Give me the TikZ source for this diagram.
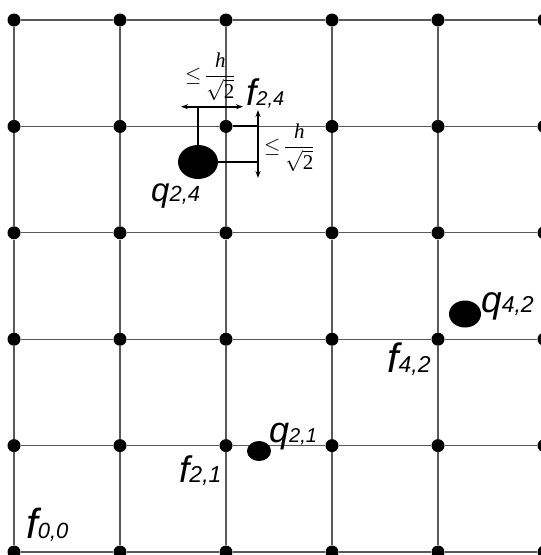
\documentclass[tikz,border=0pt]{standalone}
\usepackage{amsmath}
\usepackage{graphicx}
\usepackage{fontspec}
\setmainfont{Liberation Serif}
\newfontfamily\labfont{Liberation Sans}
\usetikzlibrary{shapes.geometric,arrows.meta}
\newcommand{\lbl}[4]{{\labfont\itshape\fontsize{#1}{#1}\selectfont #2\fontsize{#3}{#3}\selectfont #4}}
\newcommand{\dimlab}{\scalebox{2.1}{$\leq\!\dfrac{\text{\itshape h}}{\sqrt{\text{2}}}$}}
\begin{document}
\begin{tikzpicture}[x=1pt,y=-1pt,
  gdot/.style={circle,fill=black,inner sep=0pt,minimum size=13pt},
  gline/.style={draw=black!65,line width=1.1pt},
  charge/.style={ellipse,fill=black,inner sep=0pt},
  dimline/.style={draw=black,line width=2pt},
  dimarrow/.style={dimline,{Stealth[length=7pt,width=5pt]}-{Stealth[length=7pt,width=5pt]}},
  lab/.style={anchor=base west,inner sep=0pt},
  mlab/.style={inner sep=0pt}]
\useasboundingbox (0,0) rectangle (541,555);
\foreach \i in {0,...,5}{\foreach \j in {0,...,5}{
  \node[gdot] (f-\i-\j) at ({14+106*\i},{552-106.4*\j}) {};}}
\foreach \i in {0,...,4}{\foreach \j in {0,...,5}{
  \pgfmathtruncatemacro\ni{\i+1}
  \draw[gline] (f-\i-\j) -- (f-\ni-\j);
  \draw[gline] (f-\j-\i) -- (f-\j-\ni);}}
% charges
\node[charge,minimum width=40pt,minimum height=34pt] (q24) at (198,162) {};
\node[charge,minimum width=32pt,minimum height=27pt] (q42) at (465,314) {};
\node[charge,minimum width=24pt,minimum height=20pt] (q21) at (259,451) {};
% dimensions
\coordinate (hl) at (181,106.7);
\coordinate (hr) at (243,106.7);
\coordinate (vt) at (258,110);
\coordinate (vb) at (258,178);
\draw[dimarrow] (hl) -- (hr);
\draw[dimarrow] (vt) -- (vb);
\draw[dimline] (q24.center) -- (q24.center |- hl);
\draw[dimline] (f-2-4) -- (f-2-4 -| vt);
\draw[dimline] (q24) -- (q24 -| vt);
\node[mlab] (d1) at (211,77) {\dimlab};
\node[mlab] (d2) at (290,148) {\dimlab};
% labels
\node[lab] (lf24) at (246,105) {\lbl{37}{f}{20}{2,4}};
\node[lab] (lq24) at (151,201) {\lbl{33}{q}{22}{2,4}};
\node[lab] (lq42) at (481,312) {\lbl{37}{q}{23}{4,2}};
\node[lab] (lf42) at (387,372) {\lbl{41}{f}{23}{4,2}};
\node[lab] (lq21) at (269,442) {\lbl{36}{q}{20}{2,1}};
\node[lab] (lf21) at (179,482) {\lbl{37}{f}{23}{2,1}};
\node[lab] (lf00) at (26,538) {\lbl{42}{f}{22}{0,0}};
\end{tikzpicture}
\end{document}
